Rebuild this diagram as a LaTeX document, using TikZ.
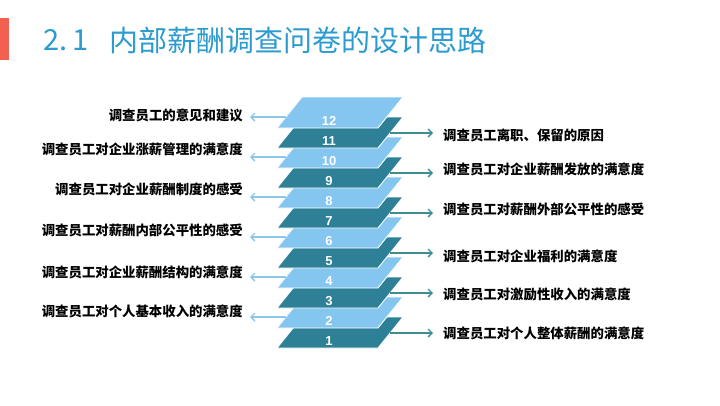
\documentclass[tikz,border=0pt]{standalone}
\usepackage{fontspec}
\setmainfont{Liberation Sans}
\newfontfamily\cjk{Noto Sans CJK SC}
\usetikzlibrary{arrows.meta}
\definecolor{lightL}{HTML}{84C6F0}
\definecolor{darkL}{HTML}{2E8097}
\definecolor{titleblue}{HTML}{2C9BCF}
\definecolor{barred}{HTML}{F2604F}
\definecolor{larrowc}{HTML}{8CC6E8}
\definecolor{rarrowc}{HTML}{3E8C94}
\tikzset{
  layer/.style={draw=white, line width=0.9pt},
  num/.style={text=white, font=\bfseries\fontsize{13}{14}\selectfont, inner sep=0pt},
  ltext/.style={font=\cjk\bfseries\fontsize{13.4}{14}\selectfont, inner sep=0pt, anchor=east, text=black},
  rtext/.style={font=\cjk\bfseries\fontsize{13.4}{14}\selectfont, inner sep=0pt, anchor=west, text=black},
  titletext/.style={anchor=west, inner sep=0pt, text=titleblue, font=\cjk\fontsize{29}{31}\selectfont},
  larrow/.style={draw=larrowc, line width=1.4pt, -{Straight Barb[length=4pt,width=8pt]}, shorten >=7pt},
  rarrow/.style={draw=rarrowc, line width=1.4pt, -{Straight Barb[length=4pt,width=8pt]}, shorten >=10pt},
}
\begin{document}
\begin{tikzpicture}[x=1pt,y=-1pt]
\useasboundingbox (0,0) rectangle (720,405);
\fill[white] (0,0) rectangle (720,405);
% title
\fill[barred] (0,18) rectangle (9,60);
\node[titletext] (tnum) at (43,40) {2.\,1};
\node[titletext] (title) at (109,40) {内部薪酬调查问卷的设计思路};
% layers
\foreach \i in {1,...,12} {
  \pgfmathsetmacro\yb{348-20*(\i-1)}
  \ifodd\i\def\lc{darkL}\else\def\lc{lightL}\fi
  \path[layer, fill=\lc] (277,\yb) -- (378,\yb) -- (403,\yb-31) -- (302,\yb-31) -- cycle;
  \node[num] (n\i) at (329,\yb-7) {\i};
  \ifodd\i
    \coordinate (ra\i) at (390,\yb-15);
  \else
    \coordinate (la\i) at (286,\yb-11);
  \fi
}
% left labels
\node[ltext] (L12) at (243,115) {调查员工的意见和建议};
\node[ltext] (L10) at (243,149) {调查员工对企业涨薪管理的满意度};
\node[ltext] (L8) at (243,189) {调查员工对企业薪酬制度的感受};
\node[ltext] (L6) at (243,230) {调查员工对薪酬内部公平性的感受};
\node[ltext] (L4) at (243,272) {调查员工对企业薪酬结构的满意度};
\node[ltext] (L2) at (243,311) {调查员工对个人基本收入的满意度};
% right labels
\node[rtext] (R11) at (443,135) {调查员工离职、保留的原因};
\node[rtext] (R9) at (443,169) {调查员工对企业薪酬发放的满意度};
\node[rtext] (R7) at (443,209) {调查员工对薪酬外部公平性的感受};
\node[rtext] (R5) at (443,256) {调查员工对企业福利的满意度};
\node[rtext] (R3) at (443,294) {调查员工对激励性收入的满意度};
\node[rtext] (R1) at (443,333) {调查员工对个人整体薪酬的满意度};
% arrows
\foreach \i in {12,10,8,6,4,2} {
  \draw[larrow] (la\i) -- (la\i -| L\i.east);
}
\foreach \i in {11,9,7,5,3,1} {
  \draw[rarrow] (ra\i) -- (ra\i -| R\i.west);
}
\end{tikzpicture}
\end{document}
